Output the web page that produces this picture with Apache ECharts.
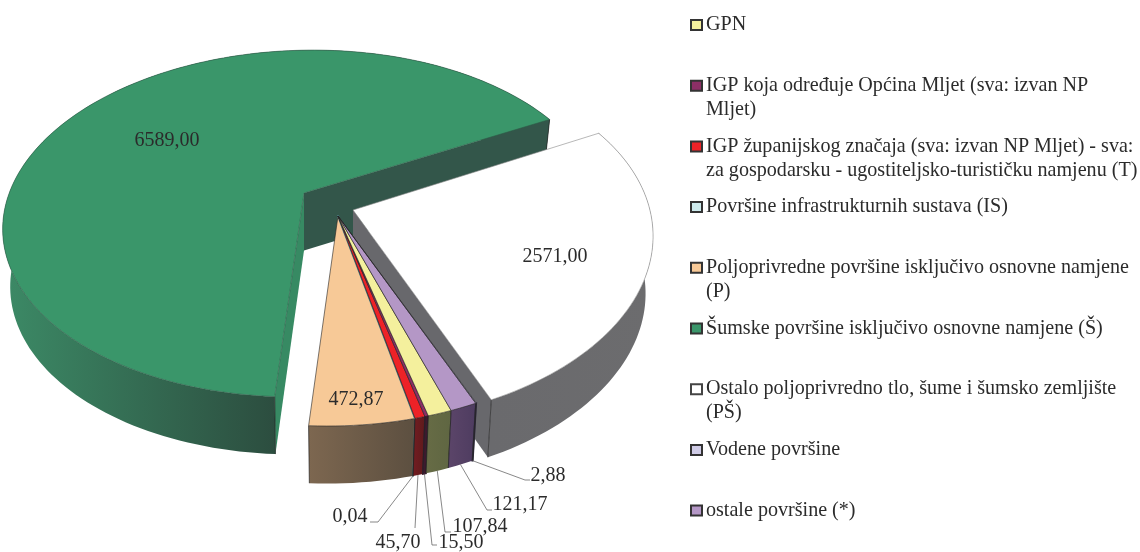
<!DOCTYPE html>
<html>
<head>
<meta charset="utf-8">
<style>
  html, body { margin: 0; padding: 0; background: #fff; }
  #chart { width: 1140px; height: 552px; }
</style>
<script src="https://cdn.jsdelivr.net/npm/echarts@6/dist/echarts.min.js"></script>
</head>
<body>
<div id="chart"></div>
<script>
// legend order as printed in the source figure
const categories = [
  'GPN',
  'IGP koja određuje Općina Mljet (sva: izvan NP Mljet)',
  'IGP županijskog značaja (sva: izvan NP Mljet) - sva: za gospodarsku - ugostiteljsko-turističku namjenu (T)',
  'Površine infrastrukturnih sustava (IS)',
  'Poljoprivredne površine isključivo osnovne namjene (P)',
  'Šumske površine isključivo osnovne namjene (Š)',
  'Ostalo poljoprivredno tlo, šume i šumsko zemljište (PŠ)',
  'Vodene površine',
  'ostale površine (*)'
];
const legendLines = [
  ['GPN'],
  ['IGP koja određuje Općina Mljet (sva: izvan NP', 'Mljet)'],
  ['IGP županijskog značaja (sva: izvan NP Mljet) - sva:', 'za gospodarsku - ugostiteljsko-turističku namjenu (T)'],
  ['Površine infrastrukturnih sustava (IS)'],
  ['Poljoprivredne površine isključivo osnovne namjene', '(P)'],
  ['Šumske površine isključivo osnovne namjene (Š)'],
  ['Ostalo poljoprivredno tlo, šume i šumsko zemljište', '(PŠ)'],
  ['Vodene površine'],
  ['ostale površine (*)']
];
const values = [107.84, 15.5, 45.7, 0.04, 472.87, 6589, 2571, 2.88, 121.17];
const valueLabels = ['107,84', '15,50', '45,70', '0,04', '472,87', '6589,00', '2571,00', '2,88', '121,17'];
const colors = ['#f4f09d', '#8c2f66', '#ed2227', '#cdeaec', '#f7c997', '#3a966a', '#ffffff', '#cfcbe6', '#b497c6'];
// rim gradient, left to right
const rimColors = [
  ['#666b45', '#5f6642'], ['#3c1a2e', '#3c1a2e'], ['#6f1c20', '#5e1a1c'], ['#4d7a82', '#4d7a82'],
  ['#7d6750', '#5c4f40'], ['#3c8a66', '#2c4d3f', '#2c4d3f'], ['#6a6a6d', '#6c6c6e'], ['#38304a', '#38304a'], ['#5a4468', '#4e3c60']
];

// order slices run round the pie, counter-clockwise on screen starting from the forest cut
const ringOrder = [5, 4, 3, 2, 1, 0, 8, 7, 6];
// back to front
const drawOrder = [5, 6, 4, 3, 2, 1, 0, 8, 7];

const startDeg = -27;
const total = values.reduce((a, b) => a + b, 0);
const sliceAngles = {};
let running = startDeg;
ringOrder.forEach((i) => {
  const span = values[i] / total * 360;
  sliceAngles[i] = [running - span, running];
  running -= span;
});

// projection of the tilted disc
const RX = 296;
const RY = 168;
const PERSP = 0.176;
const SKEW = -0.02;
const ROLL = -0.012;
const DEPTH = 57.5;
const BOTTOM_X = 0.975;

// slice apex on the picture: forest, other land, everything else
function apexOf(i) {
  if (i === 5) return [304, 193];
  if (i === 6) return [353, 210];
  return [338, 216];
}

// the pulled-out slices sit nearer the viewer and come out a bit taller
function tallOf(i) {
  if (i === 5) return 1;
  if (i === 6) return 1.045;
  return 1.03;
}

function project(i, deg) {
  const apex = apexOf(i);
  const a = deg * Math.PI / 180;
  const u = Math.cos(a);
  const v = Math.sin(a);
  const w = 1 - PERSP * v;
  const dx = RX * u / w;
  const dy = RY * tallOf(i) * v / w;
  return [apex[0] + dx + SKEW * dy, apex[1] + dy + ROLL * dx];
}

function lower(apex, p) {
  return [apex[0] + (p[0] - apex[0]) * BOTTOM_X, p[1] + DEPTH];
}

// leader bend and end points, label anchor
const leaders = {
  3: { pts: [[378, 522], [370, 522]], label: [350, 517] },
  2: { pts: [[415, 528]], label: [398, 543] },
  1: { pts: [[432, 545], [437, 545]], label: [461, 543] },
  0: { pts: [[445, 532], [451, 532]], label: [480, 527] },
  8: { pts: [[487, 510], [492, 510]], label: [520, 505] },
  7: { pts: [[525, 480], [530, 480]], label: [548, 476] }
};
const innerLabels = { 5: [167, 141], 6: [555, 257], 4: [356, 400] };

const FONT = '"Liberation Serif", "Times New Roman", serif';
const INK = '#2b2b2b';
const EDGE = '#222';

function renderSlice(i) {
  const apex = apexOf(i);
  const [from, to] = sliceAngles[i];
  const top = [];
  const bottom = [];
  const steps = Math.max(2, Math.ceil((to - from) / 1.5));
  for (let s = 0; s <= steps; s++) {
    const p = project(i, from + (to - from) * s / steps);
    top.push(p);
    bottom.push(lower(apex, p));
  }
  const apexLow = [apex[0], apex[1] + DEPTH];
  const xs = top.map((p) => p[0]);
  const rimStops = rimColors[i].map((color, k, all) => ({ offset: k / (all.length - 1), color: color }));
  const rimFill = new echarts.graphic.LinearGradient(Math.min(...xs), 0, Math.max(...xs), 0, rimStops, true);
  const thin = values[i] < 20;
  const children = [];

  children.push({
    type: 'polygon',
    shape: { points: top.concat(bottom.slice().reverse()) },
    style: { fill: rimFill, stroke: thin ? rimColors[i][0] : null, lineWidth: 1.5 }
  });
  // cut faces only show on the two big slices
  if (i === 5) {
    children.push({
      type: 'polygon',
      shape: { points: [apex, top[steps], bottom[steps], apexLow] },
      style: { fill: '#33564a' }
    });
    children.push({
      type: 'polygon',
      shape: { points: [apex, top[0], bottom[0], apexLow] },
      style: { fill: '#378a63' }
    });
  }
  if (i === 6) {
    children.push({
      type: 'polygon',
      shape: { points: [apex, top[steps], bottom[steps], apexLow] },
      style: { fill: '#68686c' }
    });
  }
  [0, steps].forEach((s) => {
    children.push({
      type: 'polyline',
      shape: { points: [top[s], bottom[s]] },
      style: { fill: 'none', stroke: EDGE, lineWidth: 0.7 }
    });
  });
  children.push({
    type: 'polygon',
    shape: { points: [apex].concat(top) },
    style: {
      fill: colors[i],
      stroke: values[i] < 1 ? rimColors[i][0] : (i === 6 ? '#888' : (i === 5 ? '#2f5a48' : EDGE)),
      lineWidth: values[i] < 1 ? 2 : 0.6,
      lineJoin: 'round'
    }
  });

  if (leaders[i]) {
    const mid = lower(apex, project(i, (from + to) / 2));
    children.push({
      type: 'polyline',
      shape: { points: [mid].concat(leaders[i].pts) },
      style: { fill: 'none', stroke: '#555', lineWidth: 0.7 }
    });
  }
  const anchor = innerLabels[i] || leaders[i].label;
  children.push({
    type: 'text',
    x: anchor[0],
    y: anchor[1],
    z2: 10,
    style: {
      text: valueLabels[i],
      font: '20px ' + FONT,
      fill: INK,
      align: 'center',
      verticalAlign: 'middle'
    }
  });
  return { type: 'group', children: children };
}

const LEGEND_PITCH = 60.7;
const LEGEND_FIRST = 25;
const LINE_H = 24;

const legends = categories.map((name, i) => {
  const lines = legendLines[i];
  // a blank line above keeps the swatch level with the first line of wrapped text
  const text = lines.length > 1 ? ' \n' + lines.join('\n') : lines[0];
  const h = LINE_H * (lines.length > 1 ? 3 : 1);
  return {
    data: [name],
    left: 690,
    top: LEGEND_FIRST + LEGEND_PITCH * i - h / 2,
    padding: 0,
    orient: 'vertical',
    icon: 'rect',
    itemWidth: 11,
    itemHeight: 10,
    itemGap: 0,
    selectedMode: false,
    formatter: () => text,
    textStyle: {
      fontFamily: FONT,
      fontSize: 20.1,
      lineHeight: LINE_H,
      color: INK,
      padding: [0, 0, 0, -1]
    }
  };
});

const series = drawOrder.map((i, order) => ({
  name: categories[i],
  type: 'custom',
  coordinateSystem: 'none',
  silent: true,
  z: 2 + order,
  data: [values[i]],
  itemStyle: { color: colors[i], borderColor: i === 6 ? '#444' : '#333', borderWidth: 1 },
  renderItem: () => renderSlice(i)
}));

const chart = echarts.init(document.getElementById('chart'));
chart.setOption({
  backgroundColor: '#fff',
  animation: false,
  legend: legends,
  series: series
});
window.addEventListener('resize', () => chart.resize());
</script>
</body>
</html>
